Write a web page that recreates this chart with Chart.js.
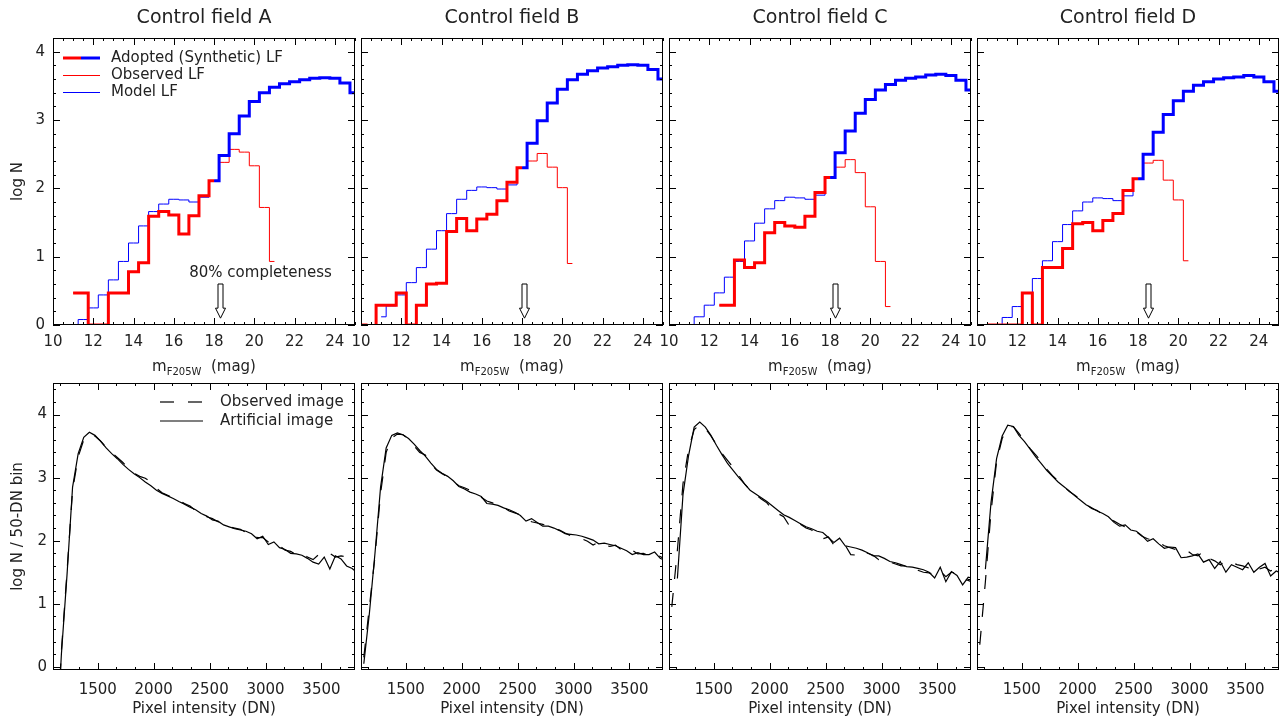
<!DOCTYPE html>
<html>
<head>
<meta charset="utf-8">
<title>Control fields: luminosity functions and pixel histograms</title>
<script src="https://cdn.jsdelivr.net/npm/chart.js@4.4.4/dist/chart.umd.min.js"></script>
<style>
  html, body { margin: 0; padding: 0; background: #fff; overflow: hidden; }
  #wrap { position: relative; width: 1279px; height: 720px; overflow: hidden; }
  #wrap canvas { position: absolute; }
</style>
</head>
<body>
<div id="wrap"></div>
<script>
// ---------- data ----------
const fieldNames = ['Control field A', 'Control field B', 'Control field C', 'Control field D'];

// luminosity functions, 0.5 mag bins (bin centres)
const magBins = [10.0, 10.5, 11.0, 11.5, 12.0, 12.5, 13.0, 13.5, 14.0, 14.5,
                 15.0, 15.5, 16.0, 16.5, 17.0, 17.5, 18.0, 18.5, 19.0, 19.5,
                 20.0, 20.5, 21.0, 21.5, 22.0, 22.5, 23.0, 23.5, 24.0, 24.5, 25.0];
const magTicks = [10, 12, 14, 16, 18, 20, 22, 24];
const logTicks = [0, 1, 2, 3, 4];

const lfModelA = [null, null, -0.5, 0.08, 0.25, 0.44, 0.66, 0.93, 1.20, 1.45,
                  1.66, 1.77, 1.84, 1.83, 1.80, 1.87, 2.11, 2.48, 2.80, 3.06,
                  3.27, 3.40, 3.48, 3.53, 3.56, 3.59, 3.61, 3.62, 3.61, 3.54, 3.40];
const lfObsA   = [null, null, 0.47, 0.47, 0, 0, 0.47, 0.47, 0.78, 0.91,
                  1.59, 1.66, 1.61, 1.33, 1.60, 1.89, 2.11, 2.38, 2.57, 2.53,
                  2.33, 1.72, 0.93, null, null, null, null, null, null, null, null];
const lfModelB = [null, null, 0.12, 0.28, 0.44, 0.62, 0.84, 1.11, 1.38, 1.63,
                  1.84, 1.97, 2.02, 2.01, 1.99, 2.05, 2.30, 2.66, 2.99, 3.25,
                  3.45, 3.59, 3.67, 3.72, 3.76, 3.78, 3.80, 3.81, 3.80, 3.74, 3.60];
const lfObsB   = [0, -1, 0.29, 0.29, 0.47, 0, 0.29, 0.60, 0.61, 1.37,
                  1.56, 1.38, 1.55, 1.62, 1.82, 2.09, 2.30, 2.40, 2.51, 2.31,
                  2.01, 0.90, null, null, null, null, null, null, null, null, null];
const lfModelC = [null, null, -0.5, 0.12, 0.29, 0.47, 0.70, 0.93, 1.23, 1.49,
                  1.70, 1.82, 1.87, 1.86, 1.84, 1.90, 2.16, 2.52, 2.84, 3.10,
                  3.30, 3.44, 3.52, 3.58, 3.61, 3.63, 3.66, 3.67, 3.65, 3.58, 3.44];
const lfObsC   = [null, null, null, null, null, 0.29, 0.29, 0.95, 0.84, 0.91,
                  1.35, 1.50, 1.45, 1.43, 1.59, 1.94, 2.16, 2.31, 2.42, 2.23,
                  1.73, 0.93, 0.27, null, null, null, null, null, null, null, null];
const lfModelD = [null, null, -0.5, 0.11, 0.27, 0.47, 0.68, 0.94, 1.22, 1.47,
                  1.67, 1.80, 1.86, 1.85, 1.82, 1.89, 2.14, 2.50, 2.82, 3.08,
                  3.28, 3.42, 3.51, 3.56, 3.60, 3.62, 3.63, 3.65, 3.63, 3.56, 3.42];
const lfObsD   = [null, 0, 0, 0, 0, 0.47, 0, 0.84, 0.84, 1.12,
                  1.48, 1.50, 1.38, 1.53, 1.63, 1.97, 2.14, 2.37, 2.41, 2.12,
                  1.83, 0.94, null, null, null, null, null, null, null, null, null];
const lfModel = [lfModelA, lfModelB, lfModelC, lfModelD];
const lfObs = [lfObsA, lfObsB, lfObsC, lfObsD];
const adoptSwitch = 18.0;               // last bin taken from the observed LF
const complMag = [18.3, 18.1, 18.25, 18.5]; // 80% completeness limits

// pixel intensity histograms, 50-DN bins
const dnBins = [1125, 1175, 1225, 1275, 1325, 1375, 1425, 1475, 1525, 1575,
                1625, 1675, 1725, 1775, 1825, 1875, 1925, 1975, 2025, 2075,
                2125, 2175, 2225, 2275, 2325, 2375, 2425, 2475, 2525, 2575,
                2625, 2675, 2725, 2775, 2825, 2875, 2925, 2975, 3025, 3075,
                3125, 3175, 3225, 3275, 3325, 3375, 3425, 3475, 3525, 3575,
                3625, 3675, 3725, 3775, 3825];
const dnTicks = [1500, 2000, 2500, 3000, 3500];

const pixArtA = [-1.5, 0.2, 1.45, 2.85, 3.38, 3.64, 3.72, 3.67, 3.58, 3.47,
                 3.38, 3.30, 3.21, 3.13, 3.06, 3.00, 2.93, 2.87, 2.80, 2.75,
                 2.71, 2.67, 2.62, 2.58, 2.53, 2.49, 2.43, 2.39, 2.33, 2.31,
                 2.25, 2.22, 2.19, 2.17, 2.15, 2.11, 2.03, 2.07, 1.94, 1.98,
                 1.89, 1.86, 1.80, 1.79, 1.77, 1.72, 1.66, 1.63, 1.74, 1.55,
                 1.76, 1.71, 1.60, 1.56, 1.48];
const pixObsA = [-1.5, 0.25, 1.5, 2.8, 3.33, 3.6, 3.68, 3.66, 3.58, 3.48,
                 3.40, 3.32, 3.24, 3.15, 3.07, 3.02, 2.99, 2.93, 2.83, 2.76,
                 2.72, 2.68, 2.64, 2.59, 2.55, 2.48, 2.45, 2.38, 2.35, 2.30,
                 2.28, 2.22, 2.20, 2.18, 2.13, 2.14, 2.05, 2.05, 1.98, 1.96,
                 1.92, 1.85, 1.83, 1.78, 1.80, 1.74, 1.70, 1.78, 1.76, 1.80,
                 1.74, 1.76, 1.74, 1.70, 1.66];
const pixArtB = [0.05, 0.85, 1.80, 2.85, 3.47, 3.67, 3.71, 3.68, 3.62, 3.53,
                 3.43, 3.34, 3.23, 3.13, 3.07, 3.02, 2.95, 2.86, 2.82, 2.77,
                 2.74, 2.70, 2.59, 2.58, 2.56, 2.52, 2.49, 2.45, 2.40, 2.31,
                 2.35, 2.29, 2.23, 2.23, 2.20, 2.16, 2.11, 2.10, 2.09, 2.07,
                 2.04, 2.01, 1.95, 1.96, 1.94, 1.92, 1.88, 1.84, 1.78, 1.81,
                 1.78, 1.78, 1.82, 1.72, 1.68];
const pixObsB = [0.15, 0.95, 1.75, 2.75, 3.40, 3.63, 3.69, 3.68, 3.61, 3.50,
                 3.40, 3.36, 3.22, 3.12, 3.06, 3.01, 2.94, 2.87, 2.84, 2.80,
                 2.75, 2.69, 2.63, 2.60, 2.55, 2.53, 2.47, 2.44, 2.41, 2.35,
                 2.30, 2.28, 2.26, 2.22, 2.19, 2.17, 2.12, 2.08, 2.06, 2.03,
                 1.99, 1.93, 1.98, 1.93, 1.91, 1.93, 1.86, 1.82, 1.85, 1.79,
                 1.80, 1.76, 1.79, 1.75, 1.70];
const pixArtC = [null, 1.40, 2.73, 3.35, 3.80, 3.88, 3.80, 3.67, 3.51, 3.36,
                 3.22, 3.11, 3.00, 2.90, 2.80, 2.74, 2.68, 2.62, 2.55, 2.48,
                 2.41, 2.37, 2.32, 2.27, 2.22, 2.19, 2.15, 2.13, 2.05, 1.97,
                 2.04, 1.92, 1.90, 1.88, 1.85, 1.81, 1.76, 1.76, 1.72, 1.67,
                 1.65, 1.62, 1.59, 1.58, 1.56, 1.54, 1.50, 1.41, 1.58, 1.35,
                 1.51, 1.45, 1.30, 1.42, 1.40];
const pixObsC = [0.95, 1.85, 2.90, 3.45, 3.76, 3.84, 3.78, 3.66, 3.52, 3.38,
                 3.27, 3.16, 3.03, 2.90, 2.80, 2.73, 2.66, 2.60, 2.49, 2.43,
                 2.38, 2.24, 2.20, 2.26, 2.20, 2.17, 2.07, 2.03, 2.06, 1.93,
                 1.90, 1.93, 1.78, 1.77, 1.84, 1.80, 1.77, 1.70, 1.71, 1.66,
                 1.63, 1.60, 1.60, 1.60, 1.53, 1.50, 1.49, 1.46, 1.52, 1.43,
                 1.50, 1.48, 1.40, 1.37, 1.33];
const pixArtD = [null, 1.55, 2.60, 3.30, 3.66, 3.83, 3.81, 3.67, 3.57, 3.45,
                 3.33, 3.22, 3.11, 3.02, 2.93, 2.86, 2.79, 2.71, 2.64, 2.57,
                 2.52, 2.47, 2.43, 2.38, 2.29, 2.23, 2.25, 2.17, 2.15, 2.08,
                 1.99, 2.03, 1.95, 1.88, 1.90, 1.89, 1.73, 1.74, 1.76, 1.79,
                 1.66, 1.70, 1.56, 1.67, 1.50, 1.62, 1.58, 1.54, 1.65, 1.50,
                 1.58, 1.64, 1.44, 1.52, 1.48];
const pixObsD = [0.35, 1.35, 2.45, 3.25, 3.62, 3.80, 3.81, 3.70, 3.58, 3.46,
                 3.36, 3.26, 3.13, 3.03, 2.95, 2.86, 2.78, 2.72, 2.65, 2.58,
                 2.51, 2.48, 2.41, 2.35, 2.31, 2.26, 2.22, 2.18, 2.14, 2.07,
                 2.03, 2.01, 1.97, 1.92, 1.89, 1.86, 1.84, 1.85, 1.78, 1.76,
                 1.83, 1.72, 1.68, 1.62, 1.68, 1.66, 1.62, 1.60, 1.57, 1.63,
                 1.55, 1.58, 1.52, 1.57, 1.50];
const pixArt = [pixArtA, pixArtB, pixArtC, pixArtD];
const pixObs = [pixObsA, pixObsB, pixObsC, pixObsD];

// ---------- layout / style ----------
const FONT = "'DejaVu Sans', sans-serif";
const INK = '#222';
const RED = '#ff0000', BLUE = '#0000ff';
const plotLeft = [53, 361, 669, 977];
const plotW = 302;
const obsDash = [14, 14];

Chart.defaults.font.family = FONT;
Chart.defaults.font.size = 15;
Chart.defaults.color = INK;
Chart.defaults.animation = false;

function range(a, b, step) {
  const out = [];
  for (let v = a; v <= b + 1e-9; v += step) out.push(+v.toFixed(4));
  return out;
}
const magMinor = range(10, 25, 0.5);
const topMinorY = range(0, 4.2, 0.2);
const botMinorY = range(0, 4.5, 0.2);
const dnMinor = range(1500 - 1000 / 3, 3800, 500 / 3);

function pts(xs, ys) { return xs.map((x, i) => ({ x: x, y: ys[i] })); }

const wrap = document.getElementById('wrap');
function makeCanvas(left, top, w, h) {
  const c = document.createElement('canvas');
  c.width = w; c.height = h;
  c.style.left = left + 'px'; c.style.top = top + 'px';
  c.style.width = w + 'px'; c.style.height = h + 'px';
  wrap.appendChild(c);
  return c;
}

// IDL-like box frame with inward ticks on all four sides
const frameTicks = {
  id: 'frameTicks',
  afterDraw(chart, args, o) {
    const { ctx, chartArea: a, scales: { x, y } } = chart;
    ctx.save();
    ctx.strokeStyle = '#000';
    ctx.lineWidth = 1;
    ctx.strokeRect(a.left + 0.5, a.top + 0.5, a.width - 1, a.height - 1);
    ctx.beginPath();
    const xt = (v, len) => {
      if (v < x.min || v > x.max) return;
      const p = Math.round(x.getPixelForValue(v)) + 0.5;
      ctx.moveTo(p, a.bottom); ctx.lineTo(p, a.bottom - len);
      ctx.moveTo(p, a.top); ctx.lineTo(p, a.top + len);
    };
    const yt = (v, len) => {
      if (v < y.min || v > y.max) return;
      const p = Math.round(y.getPixelForValue(v)) + 0.5;
      ctx.moveTo(a.left, p); ctx.lineTo(a.left + len, p);
      ctx.moveTo(a.right, p); ctx.lineTo(a.right - len, p);
    };
    o.xMinor.forEach(v => xt(v, 3));
    o.xMajor.forEach(v => xt(v, 7));
    o.yMinor.forEach(v => yt(v, 3));
    o.yMajor.forEach(v => yt(v, 7));
    ctx.stroke();
    ctx.restore();
  }
};

// luminosity-function extras: x title with subscript, completeness arrow, legend
const lfExtras = {
  id: 'lfExtras',
  afterDraw(chart, args, o) {
    const { ctx, chartArea: a, scales: { x, y } } = chart;
    const i = o.index;
    ctx.save();
    // x-axis title m_F205W (mag)
    ctx.fillStyle = INK;
    ctx.textBaseline = 'middle';
    const big = '15px ' + FONT, small = '10px ' + FONT;
    ctx.font = big; const wM = ctx.measureText('m').width;
    const tail = '  (mag)'; const wT = ctx.measureText(tail).width;
    ctx.font = small; const wS = ctx.measureText('F205W').width;
    let tx = (a.left + a.right) / 2 - (wM + wS + wT) / 2;
    const ty = a.bottom + 42;
    ctx.font = big; ctx.textAlign = 'left';
    ctx.fillText('m', tx, ty); tx += wM;
    ctx.font = small; ctx.fillText('F205W', tx, ty + 5); tx += wS;
    ctx.font = big; ctx.fillText(tail, tx, ty);

    // hollow arrow at the 80% completeness limit
    const ax = Math.round(x.getPixelForValue(complMag[i])) + 0.5;
    const top = y.getPixelForValue(0.6), tip = y.getPixelForValue(0.1);
    ctx.beginPath();
    ctx.moveTo(ax - 2.5, top); ctx.lineTo(ax + 2.5, top);
    ctx.lineTo(ax + 2.5, tip - 10); ctx.lineTo(ax + 5, tip - 10);
    ctx.lineTo(ax, tip); ctx.lineTo(ax - 5, tip - 10);
    ctx.lineTo(ax - 2.5, tip - 10); ctx.closePath();
    ctx.fillStyle = '#fff'; ctx.fill();
    ctx.strokeStyle = '#000'; ctx.lineWidth = 1; ctx.stroke();

    if (i === 0) {
      ctx.fillStyle = INK;
      ctx.font = big; ctx.textAlign = 'center';
      ctx.fillText('80% completeness', ax + 40, top - 11);

      // legend
      const lx = a.left + 10, mid = a.left + 28, rx = a.left + 47, txx = a.left + 58;
      const rows = [a.top + 20, a.top + 37, a.top + 54];
      ctx.lineCap = 'butt';
      ctx.lineWidth = 3;
      ctx.strokeStyle = RED; ctx.beginPath(); ctx.moveTo(lx, rows[0]); ctx.lineTo(mid, rows[0]); ctx.stroke();
      ctx.strokeStyle = BLUE; ctx.beginPath(); ctx.moveTo(mid, rows[0]); ctx.lineTo(rx, rows[0]); ctx.stroke();
      ctx.lineWidth = 1;
      ctx.strokeStyle = RED; ctx.beginPath(); ctx.moveTo(lx, rows[1] + 0.5); ctx.lineTo(rx, rows[1] + 0.5); ctx.stroke();
      ctx.strokeStyle = BLUE; ctx.beginPath(); ctx.moveTo(lx, rows[2] + 0.5); ctx.lineTo(rx, rows[2] + 0.5); ctx.stroke();
      ctx.textAlign = 'left';
      ctx.fillText('Adopted (Synthetic) LF', txx, rows[0]);
      ctx.fillText('Observed LF', txx, rows[1]);
      ctx.fillText('Model LF', txx, rows[2]);
    }
    ctx.restore();
  }
};

// pixel histogram legend (first field only)
const pixExtras = {
  id: 'pixExtras',
  afterDraw(chart, args, o) {
    if (o.index !== 0) return;
    const { ctx, chartArea: a } = chart;
    ctx.save();
    const lx = a.left + 107, rx = a.left + 150, txx = a.left + 167;
    const r1 = a.top + 19, r2 = a.top + 38;
    ctx.strokeStyle = '#000'; ctx.lineWidth = 1.2;
    ctx.setLineDash(obsDash);
    ctx.beginPath(); ctx.moveTo(lx, r1); ctx.lineTo(rx, r1); ctx.stroke();
    ctx.setLineDash([]);
    ctx.beginPath(); ctx.moveTo(lx, r2); ctx.lineTo(rx, r2); ctx.stroke();
    ctx.fillStyle = INK; ctx.font = '15px ' + FONT;
    ctx.textBaseline = 'middle'; ctx.textAlign = 'left';
    ctx.fillText('Observed image', txx, r1);
    ctx.fillText('Artificial image', txx, r2);
    ctx.restore();
  }
};

function axisBase(min, max, tickVals, pad, showLabels) {
  return {
    type: 'linear', min: min, max: max,
    grid: { display: false, drawTicks: false },
    border: { display: false },
    ticks: {
      display: showLabels, padding: pad, autoSkip: false, maxRotation: 0,
      font: { size: 15 }, callback: v => String(v)
    },
    afterBuildTicks: s => { s.ticks = tickVals.map(v => ({ value: v })); }
  };
}

// ---------- top row: luminosity functions ----------
for (let i = 0; i < 4; i++) {
  const padL = i === 0 ? 53 : 22;
  const cLeft = plotLeft[i] - padL;
  const w = padL + plotW + 10;
  const canvas = makeCanvas(cLeft, 0, w, 380);

  const model = lfModel[i], obs = lfObs[i];
  const adoptedRed = obs.map((v, k) => magBins[k] <= adoptSwitch ? v : null);
  const adoptedBlue = model.map((v, k) => magBins[k] >= adoptSwitch ? v : null);
  const line = (label, data, color, width) => ({
    label: label, data: pts(magBins, data), borderColor: color, borderWidth: width,
    stepped: 'middle', pointRadius: 0, fill: false, spanGaps: false
  });

  const xAx = axisBase(10, 25, magTicks, 8, true);
  xAx.afterFit = s => { s.height = 55; };
  const yAx = axisBase(0, 4.2, logTicks, 8, i === 0);
  yAx.afterFit = s => { s.width = padL; };
  yAx.title = { display: i === 0, text: 'log N', padding: { top: 9, bottom: 0 }, font: { size: 15 } };

  new Chart(canvas, {
    type: 'line',
    data: {
      datasets: [
        line('Adopted (Synthetic) LF', adoptedRed, RED, 3),
        line('Adopted (Synthetic) LF', adoptedBlue, BLUE, 3),
        line('Observed LF', obs, RED, 1),
        line('Model LF', model, BLUE, 1)
      ]
    },
    options: {
      responsive: false,
      animation: false,
      events: [],
      layout: { padding: { left: 0, right: 10, top: 0, bottom: 0 } },
      plugins: {
        legend: { display: false },
        tooltip: { enabled: false },
        title: {
          display: true, text: fieldNames[i], fullSize: false, color: INK,
          font: { size: 19, weight: 'normal' }, padding: { top: 7, bottom: 8.2 }
        },
        frameTicks: { xMajor: magTicks, xMinor: magMinor, yMajor: logTicks, yMinor: topMinorY },
        lfExtras: { index: i }
      },
      scales: { x: xAx, y: yAx }
    },
    plugins: [frameTicks, lfExtras]
  });
}

// ---------- bottom row: pixel intensity histograms ----------
// canvas starts above the plot box so the y-label padding does not push the box down
for (let i = 0; i < 4; i++) {
  const padL = i === 0 ? 53 : 22;
  const cLeft = plotLeft[i] - padL;
  const w = padL + plotW + 10;
  const canvas = makeCanvas(cLeft, 359, w, 361);

  const xAx = axisBase(1100, 3800, dnTicks, 11, true);
  xAx.afterFit = s => { s.height = 50; };
  xAx.title = { display: true, text: 'Pixel intensity (DN)', padding: { top: 0, bottom: 2 }, font: { size: 15 } };
  const yAx = axisBase(-0.05, 4.5, logTicks, 6, i === 0);
  yAx.afterFit = s => { s.width = padL; };
  yAx.title = { display: i === 0, text: 'log N / 50-DN bin', padding: { top: 9, bottom: 0 }, font: { size: 15 } };

  new Chart(canvas, {
    type: 'line',
    data: {
      datasets: [
        { label: 'Observed image', data: pts(dnBins, pixObs[i]), borderColor: '#000', borderWidth: 1.2,
          borderDash: obsDash, pointRadius: 0, fill: false, tension: 0 },
        { label: 'Artificial image', data: pts(dnBins, pixArt[i]), borderColor: '#000', borderWidth: 1.2,
          pointRadius: 0, fill: false, tension: 0 }
      ]
    },
    options: {
      responsive: false,
      animation: false,
      events: [],
      layout: { padding: { left: 0, right: 10, top: 24, bottom: 0 } },
      plugins: {
        legend: { display: false },
        tooltip: { enabled: false },
        frameTicks: { xMajor: dnTicks, xMinor: dnMinor, yMajor: logTicks, yMinor: botMinorY },
        pixExtras: { index: i }
      },
      scales: { x: xAx, y: yAx }
    },
    plugins: [frameTicks, pixExtras]
  });
}
</script>
</body>
</html>
